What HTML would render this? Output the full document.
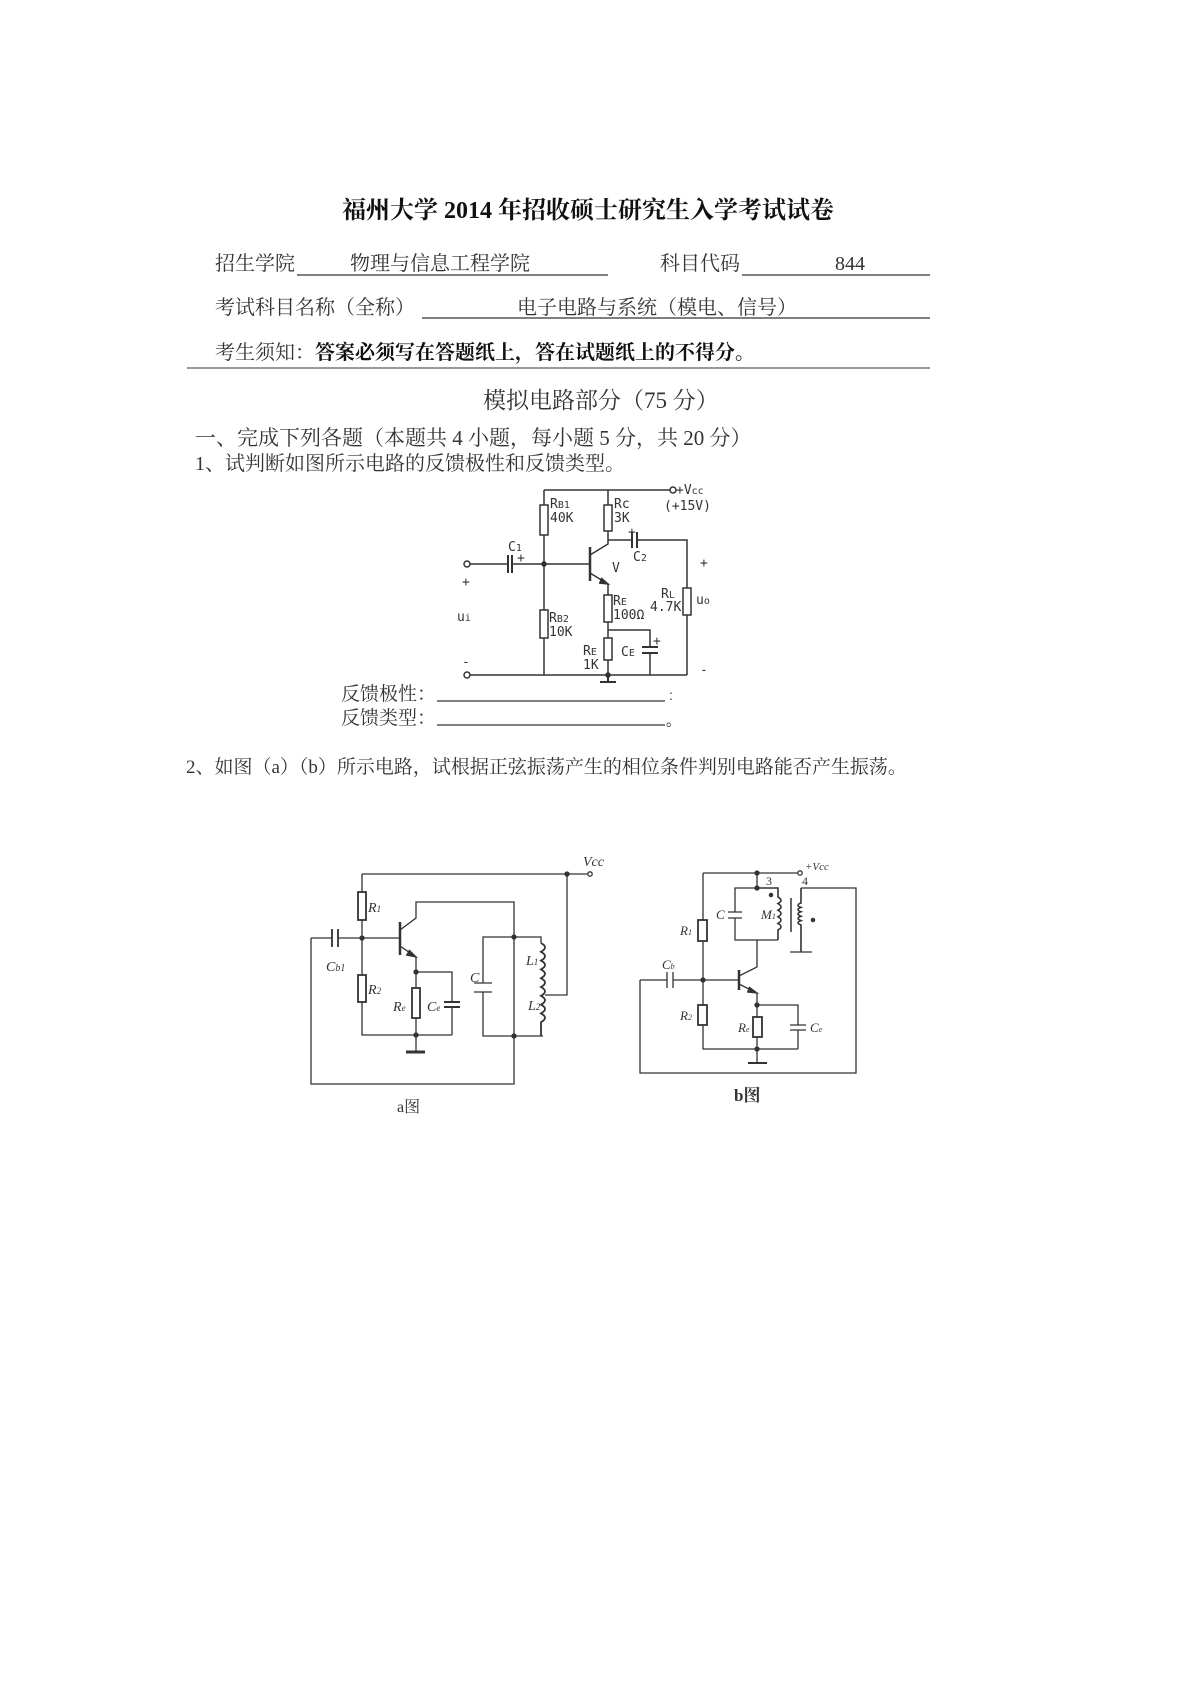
<!DOCTYPE html>
<html><head><meta charset="utf-8"><style>
html,body{margin:0;padding:0;background:#fff}
body{width:1190px;height:1683px;position:relative;overflow:hidden;font-family:"Liberation Serif","Noto Serif CJK SC",serif;color:#333}
.t{position:absolute;white-space:nowrap;line-height:1}
</style></head><body>
<div class="t" style="left:342px;top:199px;font-size:24px;font-weight:bold;color:#111">福州大学 2014 年招收硕士研究生入学考试试卷</div>
<div class="t" style="left:215px;top:254px;font-size:20px">招生学院</div>
<div class="t" style="left:350px;top:254px;font-size:20px">物理与信息工程学院</div>
<div class="t" style="left:660px;top:254px;font-size:20px">科目代码</div>
<div class="t" style="left:835px;top:254px;font-size:20px">844</div>
<div class="t" style="left:215px;top:298px;font-size:20px">考试科目名称（全称）</div>
<div class="t" style="left:517px;top:298px;font-size:20px">电子电路与系统（模电、信号）</div>
<div class="t" style="left:215px;top:343px;font-size:20px">考生须知：<b style="color:#111">答案必须写在答题纸上，答在试题纸上的不得分。</b></div>
<div class="t" style="left:483px;top:389px;font-size:23px">模拟电路部分（75 分）</div>
<div class="t" style="left:195px;top:428px;font-size:21px">一、完成下列各题（本题共 4 小题，每小题 5 分，共 20 分）</div>
<div class="t" style="left:195px;top:454px;font-size:20px">1、试判断如图所示电路的反馈极性和反馈类型。</div>
<div class="t" style="left:341px;top:685px;font-size:19px">反馈极性：</div>
<div class="t" style="left:341px;top:709px;font-size:19px">反馈类型：</div>
<div class="t" style="left:186px;top:758px;font-size:19px">2、如图（a）（b）所示电路，试根据正弦振荡产生的相位条件判别电路能否产生振荡。</div>

<svg width="1190" height="1683" style="position:absolute;left:0;top:0" fill="none" stroke="#333" stroke-width="1.5" font-family="Liberation Sans, sans-serif">
<g stroke="#555" stroke-width="1.4">
<line x1="297" y1="275" x2="608" y2="275"/><line x1="742" y1="275" x2="930" y2="275"/>
<line x1="422" y1="318" x2="930" y2="318"/>
<line x1="437" y1="701" x2="665" y2="701"/><line x1="437" y1="725" x2="665" y2="725"/>
</g>
<line x1="187" y1="368" x2="930" y2="368" stroke="#999" stroke-width="2"/>
<text x="669" y="700" font-size="14" fill="#333" stroke="none">:</text>
<text x="666" y="726" font-size="14" fill="#333" stroke="none">。</text>

<!-- circuit 1 -->
<g>
<path d="M544 490 H670"/><circle cx="673" cy="490" r="3"/>
<path d="M544 490 V564 M544 564 V675"/>
<rect x="540" y="505" width="8" height="30" fill="#fff"/>
<rect x="540" y="610" width="8" height="28" fill="#fff"/>
<circle cx="467" cy="564" r="3"/><path d="M470 564 H508 M512 564 H544 M544 564 H590"/>
<path d="M508 555 V573 M512 555 V573" stroke-width="2"/>
<circle cx="544" cy="564" r="2" fill="#333"/>
<path d="M590 547 V581" stroke-width="2.5"/>
<path d="M590 555 L608 544 V490"/>
<rect x="604" y="505" width="8" height="26" fill="#fff"/>
<path d="M608 540 H632 M637 540 H687 V675"/>
<path d="M632 532 V548 M637 532 V548" stroke-width="2"/>
<rect x="683" y="588" width="8" height="27" fill="#fff"/>
<path d="M590 573 L608 584 V675"/><path d="M601 578 L608 584 L599 583" fill="#333"/>
<rect x="604" y="595" width="8" height="27" fill="#fff"/>
<rect x="604" y="638" width="8" height="22" fill="#fff"/>
<path d="M608 630 H650 V647 M650 653 V675"/>
<path d="M642 647 H658 M642 653 H658" stroke-width="2"/>
<circle cx="467" cy="675" r="3"/><path d="M470 675 H687"/>
<circle cx="608" cy="675" r="2" fill="#333"/>
<path d="M608 675 V682 M600 682 H616" stroke-width="2"/>
<g fill="#333" stroke="none" font-size="13" font-family="DejaVu Sans Mono, monospace">
<text x="550" y="508">R<tspan font-size="10">B1</tspan></text><text x="550" y="522">40K</text>
<text x="614" y="508">Rc</text><text x="614" y="522">3K</text>
<text x="676" y="494">+V<tspan font-size="10">cc</tspan></text><text x="664" y="510">(+15V)</text>
<text x="508" y="551">C<tspan font-size="10">1</tspan></text><text x="517" y="562">+</text>
<text x="628" y="536">+</text><text x="633" y="561">C<tspan font-size="10">2</tspan></text>
<text x="612" y="572">V</text>
<text x="700" y="567">+</text><text x="700" y="674">-</text>
<text x="462" y="586">+</text><text x="462" y="666">-</text>
<text x="457" y="621">u<tspan font-size="10">i</tspan></text>
<text x="696" y="604">u<tspan font-size="10">o</tspan></text>
<text x="661" y="598">R<tspan font-size="10">L</tspan></text><text x="650" y="611">4.7K</text>
<text x="613" y="605">R<tspan font-size="10">E</tspan></text><text x="613" y="619">100Ω</text>
<text x="549" y="622">R<tspan font-size="10">B2</tspan></text><text x="549" y="636">10K</text>
<text x="583" y="655">R<tspan font-size="10">E</tspan></text><text x="583" y="669">1K</text>
<text x="621" y="656">C<tspan font-size="10">E</tspan></text><text x="653" y="645">+</text>
</g>
</g>

<!-- circuit a -->
<g stroke-width="1.3">
<path d="M362 874 H588"/><circle cx="590" cy="874" r="2.2"/><circle cx="567" cy="874" r="2" fill="#333"/>
<path d="M362 874 V1035 H452"/>
<rect x="358" y="892" width="8" height="28" fill="#fff" stroke-width="1.8"/>
<rect x="358" y="975" width="8" height="27" fill="#fff" stroke-width="1.8"/>
<circle cx="362" cy="938" r="2" fill="#333"/>
<path d="M311 938 H332 M338 938 H400"/>
<path d="M332 929 V947 M338 929 V947" stroke-width="1.8"/>
<path d="M311 938 V1084 H514 V1036"/>
<path d="M400 922 V955" stroke-width="2.5"/>
<path d="M400 930 L416 918 V902 H514 V1036"/>
<path d="M400 946 L416 957 V1052"/><path d="M409 950 L416 957 L406 955" fill="#333"/>
<circle cx="416" cy="972" r="2" fill="#333"/>
<path d="M416 972 H452 V1002 M452 1007 V1035"/>
<path d="M444 1002 H460 M444 1007 H460" stroke-width="2"/>
<rect x="412" y="988" width="8" height="30" fill="#fff" stroke-width="1.8"/>
<path d="M406 1052 H425" stroke-width="3"/>
<circle cx="416" cy="1035" r="2" fill="#333"/>
<path d="M514 937 H483 V983 M483 992 V1036 H543 M474 983 H492 M474 992 H492"/>
<circle cx="514" cy="937" r="2" fill="#333"/><circle cx="514" cy="1036" r="2" fill="#333"/>
<path d="M514 937 H541 V943"/>
<path d="M541 943 q8 4.4 0 8.8 q8 4.4 0 8.8 q8 4.4 0 8.8 q8 4.4 0 8.8 q8 4.4 0 8.8 q8 4.4 0 8.8 q8 4.4 0 8.8 q8 4.4 0 8.8 q8 4.4 0 8.8 V1036" stroke-width="1.8"/>
<path d="M545 995 H567 V874"/>
<g fill="#333" stroke="none" font-size="14" font-style="italic" font-family="Liberation Serif, serif">
<text x="368" y="912">R<tspan font-size="9">1</tspan></text>
<text x="368" y="994">R<tspan font-size="9">2</tspan></text>
<text x="326" y="971">C<tspan font-size="10">b1</tspan></text>
<text x="393" y="1011">R<tspan font-size="9">e</tspan></text>
<text x="427" y="1011">C<tspan font-size="9">e</tspan></text>
<text x="470" y="982">C</text>
<text x="526" y="965">L<tspan font-size="9">1</tspan></text>
<text x="528" y="1010">L<tspan font-size="9">2</tspan></text>
<text x="583" y="866">Vcc</text>
</g>
<text x="397" y="1112" fill="#333" stroke="none" font-size="16" font-family="Liberation Serif, Noto Serif CJK SC, serif">a图</text>
</g>

<!-- circuit b -->
<g stroke-width="1.3">
<path d="M703 873 H798"/><circle cx="800" cy="873" r="2.2"/><circle cx="757" cy="873" r="2" fill="#333"/>
<path d="M703 873 V1049 H798"/>
<rect x="698" y="920" width="9" height="21" fill="#fff" stroke-width="1.8"/>
<rect x="698" y="1005" width="9" height="20" fill="#fff" stroke-width="1.8"/>
<circle cx="703" cy="980" r="2" fill="#333"/>
<path d="M640 980 H667 M673 980 H739 M667 972 V988 M673 972 V988" />
<path d="M640 980 V1073 H856 V888 H801"/>
<path d="M757 873 V888 H735 V912 M735 918 V940 H778 M728 912 H742 M728 918 H742"/>
<circle cx="757" cy="888" r="2" fill="#333"/>
<path d="M757 888 H778 V897 q6 3.3 0 6.6 q6 3.3 0 6.6 q6 3.3 0 6.6 q6 3.3 0 6.6 q6 3.3 0 6.6 V940" stroke-width="1.6"/>
<path d="M757 940 V967 L739 976"/>
<path d="M791 898 V932" stroke-width="1.5"/>
<path d="M801 888 V903 q-6 2.2 0 4.4 q-6 2.2 0 4.4 q-6 2.2 0 4.4 q-6 2.2 0 4.4 q-6 2.2 0 4.4 V952" stroke-width="1.6"/>
<path d="M790 952 H812"/>
<circle cx="771" cy="895" r="1.6" fill="#333"/><circle cx="813" cy="920" r="1.6" fill="#333"/>
<path d="M739 970 V990" stroke-width="2.5"/>
<path d="M739 984 L757 993 V1063"/><path d="M749 987 L757 993 L747 992" fill="#333"/>
<circle cx="757" cy="1005" r="2" fill="#333"/><circle cx="757" cy="1049" r="2" fill="#333"/>
<path d="M757 1005 H798 V1025 M798 1030 V1049 M790 1025 H806 M790 1030 H806"/>
<rect x="753" y="1017" width="9" height="20" fill="#fff" stroke-width="1.8"/>
<path d="M748 1063 H767" stroke-width="2"/>
<g fill="#333" stroke="none" font-size="13" font-style="italic" font-family="Liberation Serif, serif">
<text x="680" y="935">R<tspan font-size="8">1</tspan></text>
<text x="680" y="1020">R<tspan font-size="8">2</tspan></text>
<text x="662" y="969">C<tspan font-size="8">b</tspan></text>
<text x="716" y="919">C</text>
<text x="761" y="919">M<tspan font-size="8">1</tspan></text>
<text x="738" y="1032">R<tspan font-size="8">e</tspan></text>
<text x="810" y="1032">C<tspan font-size="8">e</tspan></text>
<text x="805" y="870" font-size="11">+Vcc</text>
<text x="766" y="885" font-style="normal" font-size="12">3</text>
<text x="802" y="885" font-style="normal" font-size="12">4</text>
</g>
<text x="734" y="1101" fill="#333" stroke="none" font-size="17" font-weight="bold" font-family="Liberation Serif, Noto Serif CJK SC, serif">b图</text>
</g>
</svg>
</body></html>
